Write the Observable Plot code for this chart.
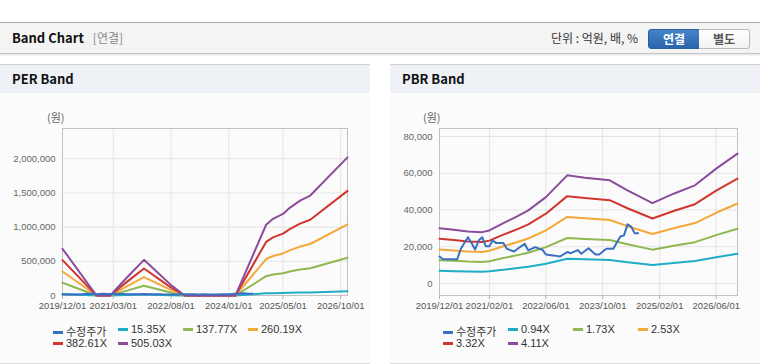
<!DOCTYPE html>
<html><head><meta charset="utf-8">
<script src="https://cdn.jsdelivr.net/npm/d3@7"></script>
<script src="https://cdn.jsdelivr.net/npm/@observablehq/plot@0.6"></script>
<style>
body{margin:0;width:760px;height:364px;position:relative;background:#fff;font-family:"Noto Sans CJK KR",sans-serif;overflow:hidden}
.abs{position:absolute}
.hdr{left:0;top:22px;width:760px;height:30px;background:#f4f4f4;border-top:1px solid #aaa;border-bottom:1px solid #c6c6c6;box-shadow:0 1px 2px rgba(0,0,0,.12)}
.panel{top:64px;width:370px;height:298px;background:#fbfbfb;border-top:1px solid #d2d2d2;border-bottom:1px solid #dcdcdc}
.ptitle{left:0;top:0;width:370px;height:28px;background:#eef2f7;font-weight:bold;font-size:13px;line-height:28px;color:#111;text-indent:12px}
.yl{font-size:11px;color:#666;font-family:"Noto Sans CJK KR",sans-serif}
.lg{font-size:11px;color:#333;white-space:nowrap;font-family:"Liberation Sans","Noto Sans CJK KR",sans-serif}
.sw{display:inline-block;width:10px;height:3px;vertical-align:middle;margin-right:3px;position:relative;top:-1px}
.btn{top:6px;height:18px;line-height:18px;font-size:12px;font-weight:bold;text-align:center}
</style></head>
<body>
<div class="abs hdr">
  <div class="abs" style="left:12px;top:0;line-height:30px;font-size:13px;font-weight:bold;color:#111">Band Chart <span style="font-weight:normal;color:#888;font-size:12px;margin-left:6px">[연결]</span></div>
  <div class="abs" style="left:551px;top:0;line-height:30px;font-size:12px;color:#333">단위 : 억원, 배, %</div>
  <div class="abs btn" style="left:648px;width:50px;background:linear-gradient(#4384c9,#2b66ad);border:1px solid #2a5f9e;border-radius:3px 0 0 3px;color:#fff">연결</div>
  <div class="abs btn" style="left:699px;width:50px;background:linear-gradient(#fff,#f2f2f2);border:1px solid #bbb;border-left:none;border-radius:0 3px 3px 0;color:#555">별도</div>
</div>
<div class="abs panel" id="pl" style="left:0"><div class="abs ptitle">PER Band</div></div>
<div class="abs panel" id="pr" style="left:390px"><div class="abs ptitle">PBR Band</div></div>
<script>
// ---- data ----
const xStart = "2019-12-01", xEnd = "2026-12-01";
const perTickDates = ["2019-12-01","2021-03-01","2022-08-01","2024-01-01","2025-05-01","2026-10-01"];
const pbrTickDates = ["2019-12-01","2021-02-01","2022-06-01","2023-10-01","2025-02-01","2026-06-01"];
const perYTicks = [0,500000,1000000,1500000,2000000];
const pbrYTicks = [0,20000,40000,60000,80000];

const priceName = "수정주가";
const priceDates = ["2019-12-01","2020-01-01","2020-05-01","2020-06-01","2020-08-01","2020-09-01","2020-10-01","2020-11-01","2020-12-01","2021-01-01","2021-02-01","2021-03-01","2021-04-01","2021-06-01","2021-07-01","2021-09-01","2021-10-01","2021-12-01","2022-01-01","2022-03-01","2022-05-01","2022-06-01","2022-08-01","2022-10-01","2022-12-01","2023-01-01","2023-03-01","2023-04-01","2023-06-01","2023-08-01","2023-09-01","2023-11-01","2024-01-01","2024-02-01","2024-03-01","2024-04-01","2024-05-01","2024-06-01","2024-07-01","2024-08-01"];
const prices = [14700,13200,13200,18900,25200,22000,18500,23400,25200,20300,20300,23400,22000,22000,18900,17400,18900,21600,18000,19800,18400,15800,15300,14700,17100,16500,18200,16200,19200,15800,15800,18900,18900,22500,25600,26200,32200,31000,27400,27400];

const perNames = ["15.35X","137.77X","260.19X","382.61X","505.03X"];
const perDates = ["2019-12-01","2020-10-01","2021-02-01","2021-07-01","2021-12-01","2022-05-01","2022-08-01","2022-12-01","2024-03-01","2024-12-01","2025-02-01","2025-05-01","2025-07-01","2025-10-01","2026-01-01","2026-12-01"];
const per15  = [20753,0,0,7982,15857,8903,4605,0,0,31468,34077,36287,38989,42213,44438,61400];
const per137 = [186265,0,0,71640,142316,79907,41331,0,0,282429,305849,325688,349936,378868,398844,551080];
const per260 = [351777,0,0,135299,268776,150910,78057,0,0,533390,577622,615089,660883,715523,753250,1040760];
const per382 = [517289,0,0,198957,395236,221914,114783,0,0,784351,849394,904490,971829,1052178,1107656,1530440];
const per505 = [682801,0,0,262616,521696,292917,151509,0,0,1035312,1121167,1193891,1282776,1388833,1462062,2020120];

const pbrNames = ["0.94X","1.73X","2.53X","3.32X","4.11X"];
const pbrDates = ["2019-12-01","2020-04-01","2020-08-01","2020-12-01","2021-02-01","2021-06-01","2021-10-01","2022-01-01","2022-06-01","2022-12-01","2023-05-01","2023-12-01","2024-05-01","2024-12-01","2025-06-01","2025-12-01","2026-06-01","2026-12-01"];
const pbr094 = [6890,6693,6486,6392,6608,7520,8385,9099,10754,13461,13169,12840,11590,10011,11177,12220,14297,16168];
const pbr173 = [12681,12318,11937,11764,12162,13840,15432,16746,19791,24774,24237,23632,21331,18425,20570,22490,26313,29756];
const pbr253 = [18545,18014,17457,17204,17786,20240,22568,24490,28943,36230,35445,34560,31195,26945,30082,32890,38481,43516];
const pbr332 = [24336,23638,22908,22576,23340,26560,29614,32138,37981,47542,46513,45351,40936,35358,39475,43160,50497,57104];
const pbr411 = [30126,29263,28359,27948,28893,32880,36661,39785,47018,58855,57581,56143,50676,43772,48868,53430,62513,70692];

// ---- styles ----
const priceColor = "#3a70c2";
const bandColors = ["#1fadc6","#8fb850","#f4a83a","#d0362d","#8c4c9c"];

const parse = d3.utcParse("%Y-%m-%d");
const fmt = d3.utcFormat("%Y/%m/%d");
const rows = (dates, vals) => dates.map((d,i)=>({date:parse(d), value:vals[i]}));

function chart(opt){
  const bandMarks = opt.bands.map((vals,i)=>Plot.line(rows(opt.dates, vals), {x:"date", y:"value", stroke:bandColors[i], strokeWidth:2}));
  return Plot.plot({
    width:370, height:220, marginLeft:opt.ml, marginRight:23, marginTop:28, marginBottom:25,
    x:{type:"utc", domain:[parse(xStart), parse(xEnd)], label:null},
    y:{domain:opt.yDomain, label:null},
    style:{background:"transparent", fontFamily:"'Liberation Sans',sans-serif", fontSize:"9.5px", color:"#666", overflow:"visible"},
    marks:[
      Plot.gridX(opt.xTicks.map(parse), {stroke:"#e4e4e4", strokeOpacity:1}),
      Plot.gridY(opt.yTicks, {stroke:"#e4e4e4", strokeOpacity:1}),
      Plot.frame({stroke:"#c2c2c2"}),
      Plot.axisX(opt.xTicks.map(parse), {tickFormat:fmt, tickSize:4, tickPadding:3, stroke:"#b4b4b4", fill:"#555", label:null}),
      Plot.axisY(opt.yTicks, {tickFormat:d3.format(","), tickSize:0, tickPadding:7, fill:"#666", label:null}),
      ...bandMarks,
      Plot.line(rows(priceDates, prices), {x:"date", y:"value", stroke:priceColor, strokeWidth:2})
    ]
  });
}

function place(panelId, svg, yLabelLeft, legendLeft, names){
  const p = document.getElementById(panelId);
  svg.style.position="absolute"; svg.style.left="0px"; svg.style.top="35px";
  p.appendChild(svg);
  const yl = document.createElement("div");
  yl.className="abs yl"; yl.style.left=yLabelLeft+"px"; yl.style.top="44px"; yl.textContent="(원)";
  p.appendChild(yl);
  const items = [[priceName, priceColor]].concat(names.map((n,i)=>[n, bandColors[i]]));
  items.forEach((it,i)=>{
    const d=document.createElement("div");
    d.className="abs lg";
    d.style.left=(legendLeft + (i%4)*65)+"px";
    d.style.top=(258 + Math.floor(i/4)*14)+"px";
    d.innerHTML='<span class="sw" style="background:'+it[1]+'"></span>'+it[0];
    p.appendChild(d);
  });
}

place("pl", chart({dates:perDates, bands:[per15,per137,per260,per382,per505], yDomain:[0,2443000], yTicks:perYTicks, xTicks:perTickDates, ml:62}), 47, 53, perNames);
place("pr", chart({dates:pbrDates, bands:[pbr094,pbr173,pbr253,pbr332,pbr411], yDomain:[-6530,84350], yTicks:pbrYTicks, xTicks:pbrTickDates, ml:49}), 33, 53, pbrNames);
</script>
</body></html>
